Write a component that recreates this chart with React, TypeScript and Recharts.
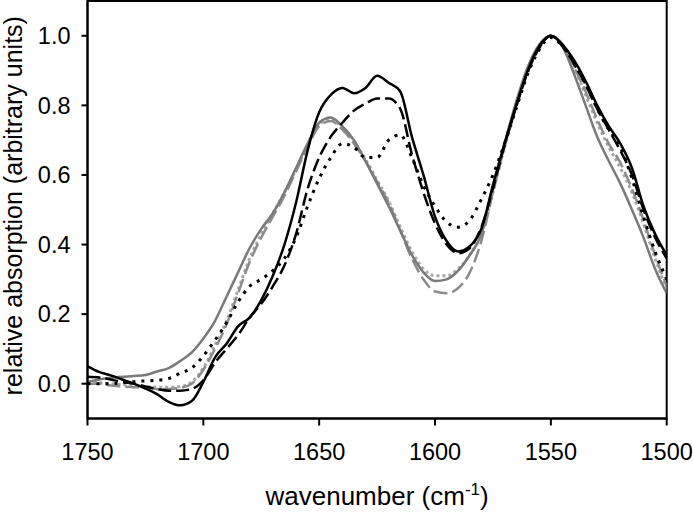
import React from "react";
import { LineChart, Line, XAxis, YAxis, ReferenceArea } from "recharts";

const wavenumbers = [
  1750, 1745, 1740, 1735, 1730, 1725, 1720, 1715, 1710, 1705, 1700, 1695, 1690,
  1685, 1680, 1675, 1670, 1665, 1660, 1655, 1650, 1645, 1640, 1635, 1630, 1625,
  1620, 1615, 1610, 1605, 1600, 1595, 1590, 1585, 1580, 1575, 1570, 1565, 1560,
  1555, 1550, 1545, 1540, 1535, 1530, 1525, 1520, 1515, 1510, 1505, 1500,
];

const blackSolid = [
  0.05, 0.034, 0.024, 0.012, 0.0, -0.014, -0.03, -0.052, -0.062, -0.05, 0.005, 0.075, 0.115,
  0.165, 0.19, 0.24, 0.31, 0.4, 0.52, 0.67, 0.78, 0.83, 0.85, 0.835, 0.85, 0.885,
  0.865, 0.84, 0.71, 0.6, 0.48, 0.41, 0.38, 0.395, 0.445, 0.57, 0.69, 0.8, 0.9,
  0.97, 1.0, 0.975, 0.93, 0.87, 0.8, 0.74, 0.69, 0.62, 0.51, 0.43, 0.37,
];

const blackDashed = [
  0.02, 0.018, 0.012, 0.005, 0.0, -0.008, -0.015, -0.02, -0.02, -0.015, 0.01, 0.06, 0.1,
  0.14, 0.19, 0.23, 0.28, 0.34, 0.43, 0.56, 0.65, 0.71, 0.75, 0.785, 0.805, 0.82,
  0.82, 0.79, 0.66, 0.55, 0.46, 0.4, 0.375, 0.39, 0.45, 0.56, 0.685, 0.795, 0.895,
  0.965, 1.0, 0.97, 0.92, 0.86, 0.79, 0.73, 0.67, 0.6, 0.5, 0.42, 0.36,
];

const blackDotted = [
  0.0, 0.0, 0.0, 0.003, 0.006, 0.008, 0.01, 0.015, 0.03, 0.045, 0.08, 0.125, 0.175,
  0.235, 0.28, 0.3, 0.325, 0.36, 0.42, 0.51, 0.59, 0.65, 0.69, 0.68, 0.65, 0.65,
  0.7, 0.715, 0.65, 0.57, 0.51, 0.465, 0.45, 0.47, 0.53, 0.6, 0.69, 0.79, 0.89,
  0.96, 0.995, 0.97, 0.92, 0.86, 0.79, 0.73, 0.68, 0.59, 0.48, 0.38, 0.3,
];

const graySolid = [
  0.005, 0.012, 0.017, 0.02, 0.022, 0.025, 0.035, 0.045, 0.065, 0.09, 0.13, 0.18, 0.25,
  0.32, 0.39, 0.445, 0.49, 0.55, 0.62, 0.69, 0.75, 0.765, 0.74, 0.7, 0.64, 0.575,
  0.51, 0.44, 0.37, 0.32, 0.295, 0.3, 0.325, 0.37, 0.43, 0.57, 0.69, 0.81, 0.91,
  0.975, 1.0, 0.97, 0.89, 0.8, 0.71, 0.64, 0.575, 0.5, 0.42, 0.33, 0.26,
];

const grayDashed = [
  0.0, 0.0, -0.005, -0.008, -0.01, -0.012, -0.015, -0.015, -0.012, 0.0, 0.04, 0.1, 0.17,
  0.26, 0.35, 0.42, 0.48, 0.54, 0.61, 0.68, 0.74, 0.755, 0.73, 0.69, 0.64, 0.58,
  0.52, 0.44, 0.36, 0.3, 0.265, 0.26, 0.275, 0.32, 0.41, 0.55, 0.68, 0.8, 0.905,
  0.97, 1.0, 0.975, 0.91, 0.84, 0.76, 0.69, 0.635, 0.56, 0.47, 0.37, 0.28,
];

const grayDotted = [
  0.005, 0.003, 0.0, -0.003, -0.005, -0.008, -0.01, -0.01, -0.008, 0.005, 0.045, 0.11, 0.18,
  0.27, 0.36, 0.43, 0.49, 0.55, 0.615, 0.685, 0.745, 0.76, 0.735, 0.695, 0.645, 0.585,
  0.525, 0.45, 0.38, 0.33, 0.31, 0.31, 0.33, 0.37, 0.43, 0.55, 0.68, 0.8, 0.905,
  0.97, 1.0, 0.975, 0.91, 0.83, 0.75, 0.68, 0.62, 0.55, 0.46, 0.36, 0.27,
];

const xTicks = [1750, 1700, 1650, 1600, 1550, 1500];
const yTicks = [0.0, 0.2, 0.4, 0.6, 0.8, 1.0];

const data = wavenumbers.map((w, i) => ({
  w,
  bs: blackSolid[i],
  bd: blackDashed[i],
  bdt: blackDotted[i],
  gs: graySolid[i],
  gd: grayDashed[i],
  gdt: grayDotted[i],
}));

const FONT = "'Liberation Sans', Arial, sans-serif";

const XLabel = (props: any) => {
  const vb = props.viewBox || {};
  const cx = vb.x + vb.width / 2;
  const y = vb.y + 86;
  return (
    <text x={cx} y={y} textAnchor="middle" fontFamily={FONT} fontSize={26} fill="#000">
      <tspan>wavenumber (cm</tspan>
      <tspan dy={-10} fontSize={17}>-1</tspan>
      <tspan dy={10}>)</tspan>
    </text>
  );
};

const YLabel = (props: any) => {
  const vb = props.viewBox || {};
  const cy = vb.y + vb.height / 2 - 4;
  const x = 22;
  return (
    <text
      x={x}
      y={cy}
      textAnchor="middle"
      fontFamily={FONT}
      fontSize={25}
      fill="#000"
      transform={`rotate(-90, ${x}, ${cy})`}
    >
      relative absorption (arbitrary units)
    </text>
  );
};

export default function App() {
  return (
    <div style={{ position: "absolute", left: 0, top: 0, width: 693, height: 514, background: "#fff" }}>
      <LineChart
        width={693}
        height={514}
        data={data}
        margin={{ top: 1, right: 26.3, bottom: 0, left: 0 }}
      >
        <XAxis
          dataKey="w"
          type="number"
          domain={[1500, 1750]}
          reversed
          ticks={xTicks}
          tickSize={7}
          tickMargin={18}
          height={95.5}
          axisLine={{ stroke: "#000", strokeWidth: 2 }}
          tickLine={{ stroke: "#000", strokeWidth: 2 }}
          tick={{ fill: "#000", fontSize: 23.5, fontFamily: FONT }}
          label={<XLabel />}
          interval={0}
          allowDataOverflow
        />
        <YAxis
          type="number"
          domain={[-0.1, 1.1]}
          ticks={yTicks}
          tickFormatter={(v: number) => v.toFixed(1)}
          width={87.5}
          tickSize={6}
          tickMargin={11}
          axisLine={{ stroke: "#000", strokeWidth: 2 }}
          tickLine={{ stroke: "#000", strokeWidth: 2 }}
          tick={{ fill: "#000", fontSize: 23.5, fontFamily: FONT }}
          label={<YLabel />}
          interval={0}
          allowDataOverflow
        />
        <ReferenceArea
          x1={1750}
          x2={1500}
          y1={-0.1}
          y2={1.1}
          fill="none"
          stroke="#000"
          strokeWidth={2}
          ifOverflow="visible"
        />
        <Line
          dataKey="gdt"
          type="monotone"
          stroke="#a8a8a8"
          strokeWidth={3}
          strokeDasharray="3 3"
          dot={false}
          isAnimationActive={false}
        />
        <Line
          dataKey="gd"
          type="monotone"
          stroke="#8c8c8c"
          strokeWidth={2.5}
          strokeDasharray="14 5"
          dot={false}
          isAnimationActive={false}
        />
        <Line
          dataKey="gs"
          type="monotone"
          stroke="#7a7a7a"
          strokeWidth={2.5}
          dot={false}
          isAnimationActive={false}
        />
        <Line
          dataKey="bdt"
          type="monotone"
          stroke="#000"
          strokeWidth={3}
          strokeDasharray="3 6"
          dot={false}
          isAnimationActive={false}
        />
        <Line
          dataKey="bd"
          type="monotone"
          stroke="#000"
          strokeWidth={2.5}
          strokeDasharray="13 5"
          dot={false}
          isAnimationActive={false}
        />
        <Line
          dataKey="bs"
          type="monotone"
          stroke="#000"
          strokeWidth={2.5}
          dot={false}
          isAnimationActive={false}
        />
      </LineChart>
    </div>
  );
}
